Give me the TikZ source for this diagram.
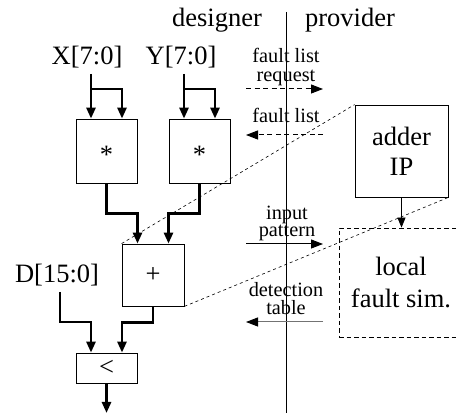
\documentclass[tikz,border=0pt]{standalone}
\usepackage{fontspec}
\setmainfont{Liberation Serif}
\usetikzlibrary{arrows.meta,calc}
\begin{document}
\begin{tikzpicture}[x=1pt,y=-1pt,
  big/.style={font=\fontsize{26.5}{30}\selectfont},
  small/.style={inner sep=0pt, align=center},
  opbox/.style={draw, line width=0.8pt, minimum width=61pt, minimum height=64pt, inner sep=0pt, big},
  bus/.style={line width=2.6pt, line join=miter, -{Triangle[length=11pt,width=9pt]}},
  msg/.style={line width=1pt, -{Triangle[length=12pt,width=9pt]}},
  msgdash/.style={msg, dash pattern=on 5pt off 3.5pt},
  guide/.style={line width=0.6pt, dash pattern=on 3pt off 3pt},
  thinarrow/.style={line width=0.8pt, -{Triangle[length=10pt,width=8pt]}},
]
\useasboundingbox (0,0) rectangle (458,419);

% headings and input labels
\node[big, anchor=base] (designer) at (217,27) {designer};
\node[big, anchor=base] (provider) at (350,27) {provider};
\node[big, anchor=base] (xlab) at (87,65) {X[7:0]};
\node[big, anchor=base] (ylab) at (181,65) {Y[7:0]};
\node[big, anchor=base] (dlab) at (57,283) {D[15:0]};

% operator boxes
\node[opbox] (m1) at (106.5,151) {\smash{\raisebox{-0.47em}{*}}};
\node[opbox] (m2) at (199.5,151) {\smash{\raisebox{-0.47em}{*}}};
\node[opbox, minimum width=62pt, minimum height=62pt] (add) at (153,275) {+};
\node[opbox, minimum height=30pt] (cmp) at (106.5,368) {<};

% provider side
\node[draw, line width=0.8pt, minimum width=93pt, minimum height=92pt, inner sep=0pt, big, align=center] (ip) at (401.5,151) {adder\\IP};
\node[draw, line width=0.8pt, dash pattern=on 4.5pt off 3pt, minimum width=124pt, minimum height=109pt, inner sep=0pt, align=center, font=\fontsize{26.5}{32}\selectfont] (sim) at (401,282.5) {local\\fault sim.};

% divider
\coordinate (dtop) at (286.5,12);
\coordinate (dbot) at (286.5,413);
\draw[line width=0.8pt] (dtop) -- (dbot);

% messages
\node[small, font=\fontsize{20.3}{19}\selectfont] (req) at (286,67.5) {fault list\\request};
\coordinate (r1L) at (246,89); \coordinate (r1R) at (323,89);
\draw[msgdash] (r1L) -- (r1R);

\node[small, font=\fontsize{20.3}{19}\selectfont, anchor=base] (fl) at (286,123) {fault list};
\coordinate (f1L) at (246,135); \coordinate (f1R) at (323,135);
\draw[msgdash] (f1R) -- (f1L);

\node[small, font=\fontsize{20.3}{17}\selectfont] (inp) at (287,223.5) {input\\pattern};
\coordinate (pL) at (246,244); \coordinate (pR) at (323,244);
\draw[msg] (pL) -- (pR);

\node[small, font=\fontsize{20.3}{18}\selectfont] (dt) at (286,299) {detection\\table};
\coordinate (tL) at (246,322); \coordinate (tR) at (323,322);
\draw[line width=1pt, draw=black!55, -{Triangle[length=12pt,width=9pt,color=black]}] (tR) -- (tL);

% buses
\coordinate (xs) at (91,74);
\draw[bus] (xs) -- (xs |- m1.north);
\draw[bus] (xs |- 0,89) -| ([xshift=15.5pt]m1.north);
\coordinate (ys) at (184,74);
\draw[bus] (ys) -- (ys |- m2.north);
\draw[bus] (ys |- 0,89) -| ([xshift=15.5pt]m2.north);

\draw[bus] (m1.south) -- ++(0,30) -| ([xshift=-15.5pt]add.north);
\draw[bus] (m2.south) -- ++(0,30) -| ([xshift=15.5pt]add.north);

\coordinate (ds) at (60,292);
\draw[bus] (ds) -- ++(0,30) -| ([xshift=-15.5pt]cmp.north);
\draw[bus] (add.south) -- ++(0,16) -| ([xshift=15.5pt]cmp.north);
\coordinate (out) at (106.5,413);
\draw[bus] (cmp.south) -- (out);

% provider arrow
\draw[thinarrow] (ip.south) -- (ip.south |- sim.north);

% guide lines
\draw[guide] (add.north west) -- (ip.north west);
\draw[guide] (add.south east) -- (ip.south east);
\end{tikzpicture}
\end{document}
